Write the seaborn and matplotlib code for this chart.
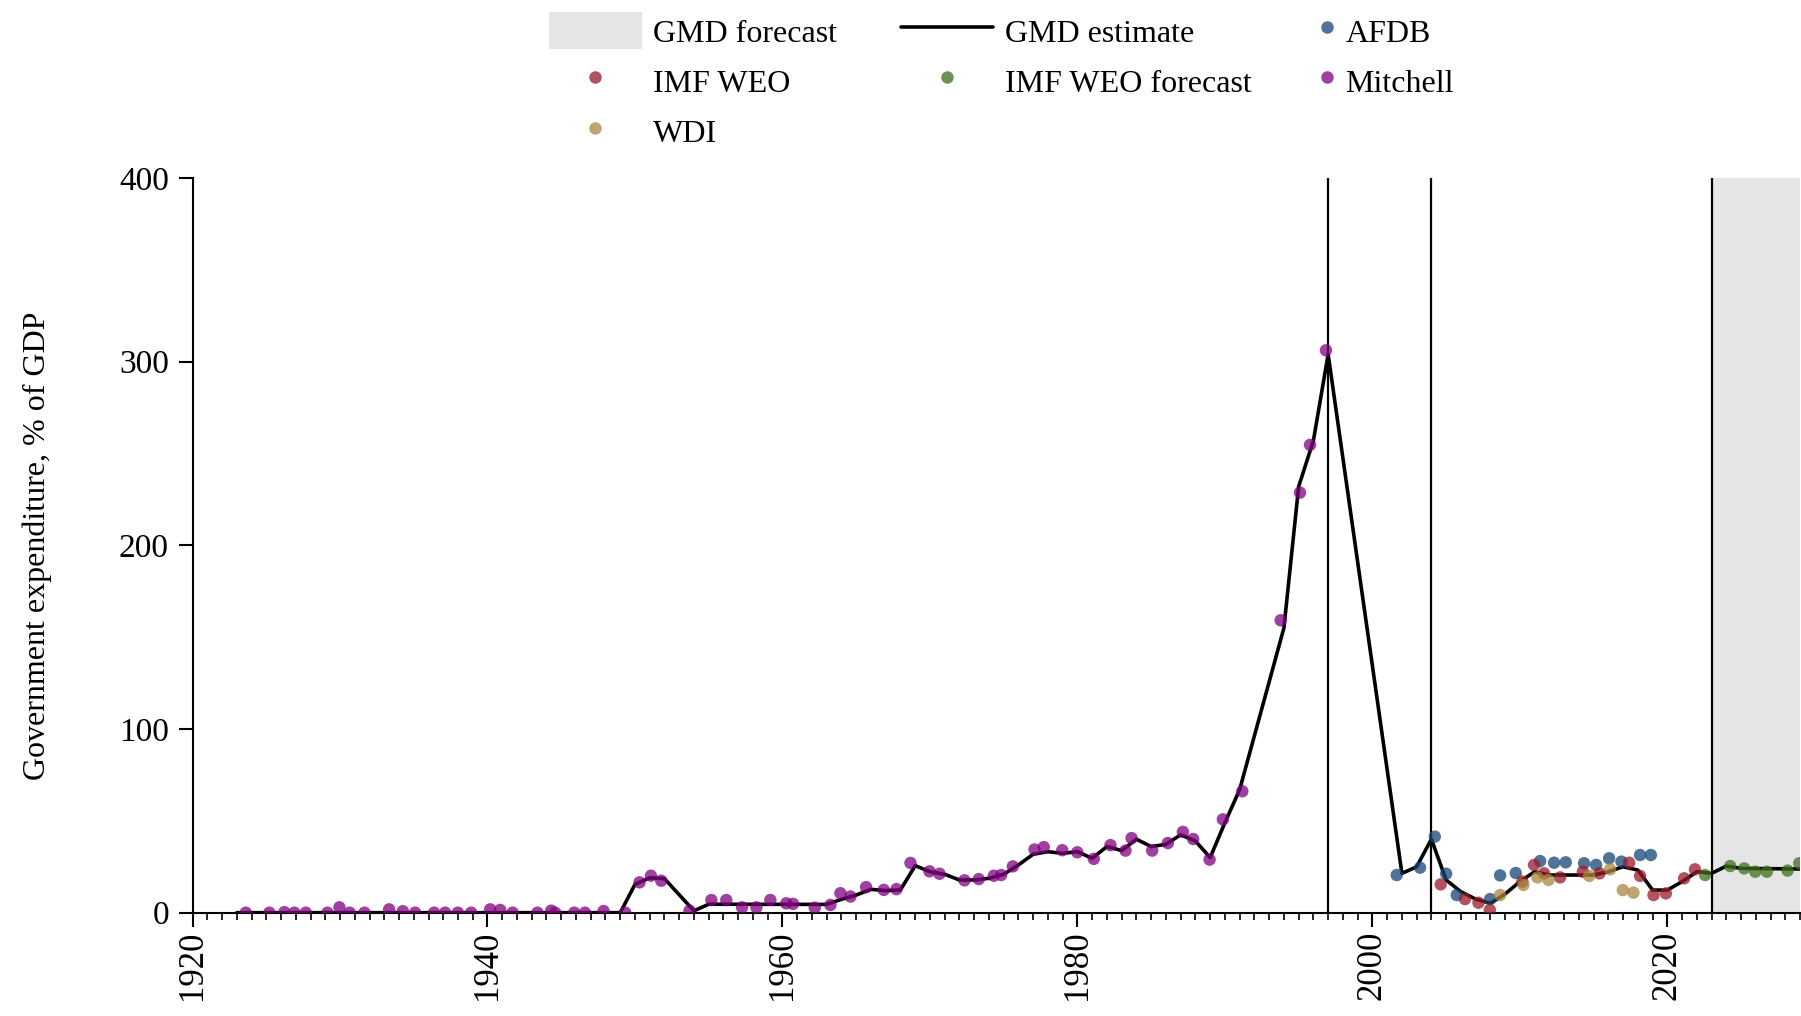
import pandas as pd
import matplotlib
matplotlib.use('Agg')
import matplotlib.pyplot as plt
import seaborn as sns
from matplotlib.patches import Patch
from matplotlib.lines import Line2D

# ---- GMD estimate (black line) ----
est_years = [1923, 1949, 1950, 1951, 1952, 1954, 1955, 1963, 1964, 1965, 1966, 1967, 1968,
             1969, 1970, 1971, 1972, 1973, 1974, 1975, 1976, 1977, 1978, 1979, 1980, 1981,
             1982, 1983, 1984, 1985, 1986, 1987, 1988, 1989, 1990, 1991, 1994, 1995, 1996,
             1997, 2002, 2003, 2004, 2005, 2006, 2007, 2008, 2009, 2010, 2011, 2012, 2015,
             2016, 2017, 2018, 2019, 2020, 2021, 2022, 2023, 2024, 2025, 2029]
est_values = [0, 0, 15.4, 19, 18.5, 1, 4.6, 4.5, 7.3, 9.6, 12.7, 12.0, 12.4,
              25.6, 22.3, 20.9, 17.8, 17.8, 18.7, 20.9, 26, 31.8, 33.2, 32.3, 33.2, 29.6,
              36, 33.8, 40, 36, 37.2, 42.4, 39, 30, 49, 67, 155, 232, 257,
              304, 21.4, 25, 40, 17.8, 11.4, 7.4, 5.1, 10.2, 16.9, 22.3, 20.5, 20.5,
              22.3, 25, 23.2, 12.3, 12.3, 16.9, 22.3, 21.4, 25.4, 24.1, 23.8]

# ---- source points ----
mitchell_years = [1923.61, 1925.21, 1926.23, 1926.91, 1927.68, 1929.15, 1929.96, 1930.66, 1931.66,
                  1933.33, 1934.26, 1935.09, 1936.38, 1937.13, 1937.99, 1938.89, 1940.18, 1940.86,
                  1941.70, 1943.39, 1944.32, 1944.59, 1945.88, 1946.61, 1947.87, 1949.34, 1950.31,
                  1951.08, 1951.78, 1953.70, 1955.18, 1956.19, 1957.26, 1958.23, 1959.18, 1960.26,
                  1960.72, 1962.19, 1963.25, 1963.93, 1964.61, 1965.67, 1966.87, 1967.73, 1968.68,
                  1969.97, 1970.65, 1972.34, 1973.31, 1974.33, 1974.83, 1975.62, 1977.09, 1977.72,
                  1978.97, 1979.99, 1981.11, 1982.24, 1983.26, 1983.67, 1985.07, 1986.13, 1987.15,
                  1987.85, 1988.96, 1989.86, 1991.18, 1993.78, 1995.09, 1995.77, 1996.85]
mitchell_values = [0, 0, 0.3, 0, 0, 0, 2.9, 0, 0,
                   1.8, 0.8, 0, 0, 0, 0, 0, 1.8, 1.5,
                   0, 0, 1.1, 0, 0, 0, 0.9, 0, 16.5,
                   20.1, 17.4, 1.1, 6.9, 6.9, 2.9, 2.9, 6.9, 5.1,
                   4.8, 2.7, 4.2, 10.6, 8.8, 13.9, 12.4, 12.8, 27.1,
                   22.5, 21.2, 17.6, 18.3, 20.1, 20.5, 25.2, 34.4, 35.7,
                   34.0, 32.9, 29.3, 36.8, 33.8, 40.6, 33.8, 37.9, 44.0,
                   40.1, 28.9, 50.8, 66.1, 159.2, 228.7, 254.7, 306.2]

afdb_years = [2001.65, 2003.23, 2004.23, 2005.0, 2005.72, 2007.98, 2008.66, 2009.72, 2011.37,
              2012.32, 2013.11, 2014.35, 2015.17, 2016.05, 2016.89, 2018.15, 2018.88]
afdb_values = [20.5, 24.5, 41.4, 21.2, 9.6, 7.4, 20.3, 21.6, 28.1,
               27.2, 27.4, 26.9, 26.0, 29.6, 27.8, 31.4, 31.4]

weo_years = [2004.63, 2006.28, 2007.19, 2007.96, 2010.17, 2010.96, 2011.64, 2012.73,
             2014.27, 2015.40, 2017.41, 2018.15, 2019.06, 2019.90, 2021.14, 2021.87]
weo_values = [15.4, 7.4, 5.4, 1.5, 16.9, 26.0, 21.4, 19.2,
              22.3, 21.4, 27.2, 20.0, 9.6, 10.5, 18.7, 23.6]

wdi_years = [2008.66, 2010.24, 2011.19, 2011.94, 2014.70, 2016.12, 2016.98, 2017.70]
wdi_values = [9.6, 15.1, 19.2, 17.8, 20.0, 23.6, 12.3, 10.9]

weo_fc_years = [2022.56, 2024.26, 2025.21, 2025.96, 2026.75, 2028.15, 2028.94]
weo_fc_values = [20.5, 25.4, 24.1, 22.3, 22.3, 22.9, 26.9]

marker_lines = [1997, 2004]
forecast_start = 2023
x_end = 2029

palette = {
    'AFDB': '#144574',
    'IMF WEO': '#991B29',
    'IMF WEO forecast': '#3F6F1D',
    'Mitchell': '#800080',
    'WDI': '#A9863D',
}

points = pd.concat([
    pd.DataFrame({'year': mitchell_years, 'value': mitchell_values, 'source': 'Mitchell'}),
    pd.DataFrame({'year': afdb_years, 'value': afdb_values, 'source': 'AFDB'}),
    pd.DataFrame({'year': weo_years, 'value': weo_values, 'source': 'IMF WEO'}),
    pd.DataFrame({'year': wdi_years, 'value': wdi_values, 'source': 'WDI'}),
    pd.DataFrame({'year': weo_fc_years, 'value': weo_fc_values, 'source': 'IMF WEO forecast'}),
], ignore_index=True)

sns.set_style('ticks')
plt.rcParams['font.family'] = ['Liberation Serif', 'DejaVu Serif']
# 文字与刻度统一用纯黑
for k in ['text.color', 'axes.labelcolor', 'xtick.color', 'ytick.color', 'axes.edgecolor']:
    plt.rcParams[k] = 'black'

fig = plt.figure(figsize=(18.01, 10.16), dpi=100)
ax = fig.add_axes([0.1069, 0.1017, 0.8926, 0.7231])

# forecast shading and reference lines
ax.axvspan(forecast_start, x_end, color='#e5e5e5', lw=0, zorder=0)
for yr in marker_lines + [forecast_start]:
    ax.axvline(yr, color='black', lw=1.6, zorder=1)

sns.lineplot(x=est_years, y=est_values, color='black', lw=2.6, ax=ax, zorder=3)
sns.scatterplot(data=points, x='year', y='value', hue='source', palette=palette,
                s=80, alpha=0.75, linewidth=0, legend=False, ax=ax, zorder=4)

ax.set_xlim(1920, x_end)
ax.set_ylim(0, 400)
ax.set_xticks(range(1920, 2021, 20))
ax.set_xticks(range(1920, 2030), minor=True)
ax.set_yticks(range(0, 401, 100))
ax.tick_params(axis='x', which='major', length=10, width=1.5, labelsize=25, pad=3,
               labelrotation=90)
ax.tick_params(axis='x', which='minor', length=5, width=1.2)
ax.tick_params(axis='y', which='major', length=10, width=1.5, labelsize=24, pad=7)
for s in ['top', 'right']:
    ax.spines[s].set_visible(False)
for s in ['left', 'bottom']:
    ax.spines[s].set_linewidth(1.5)

ax.set_xlabel('')
ax.set_ylabel('Government expenditure, % of GDP', fontsize=23)
ax.yaxis.set_label_coords(-0.0875, 0.5)


def dot(c):
    return Line2D([], [], marker='o', ls='', color=c, alpha=0.75, markersize=9, markeredgewidth=0)


leg_kw = dict(frameon=False, fontsize=23, handleheight=1.4, handletextpad=0.35,
              labelspacing=0.42, borderpad=0, borderaxespad=0, loc='upper left')

# legend: first two columns
hA = [Patch(facecolor='#e5e5e5', edgecolor='none'), dot(palette['IMF WEO']), dot(palette['WDI']),
      Line2D([], [], color='black', lw=2.6), dot(palette['IMF WEO forecast'])]
lA = ['GMD forecast', 'IMF WEO', 'WDI', 'GMD estimate', 'IMF WEO forecast']
fig.legend(hA, lA, ncol=2, bbox_to_anchor=(549 / 1801, 1 - 12.5 / 1016),
           handlelength=2.9, columnspacing=2.0, **leg_kw)

# legend: third column
hB = [dot(palette['AFDB']), dot(palette['Mitchell'])]
lB = ['AFDB', 'Mitchell']
fig.legend(hB, lB, ncol=1, bbox_to_anchor=(1320 / 1801, 1 - 12.5 / 1016),
           handlelength=0.45, **leg_kw)

fig.savefig('out.png', dpi=100)
